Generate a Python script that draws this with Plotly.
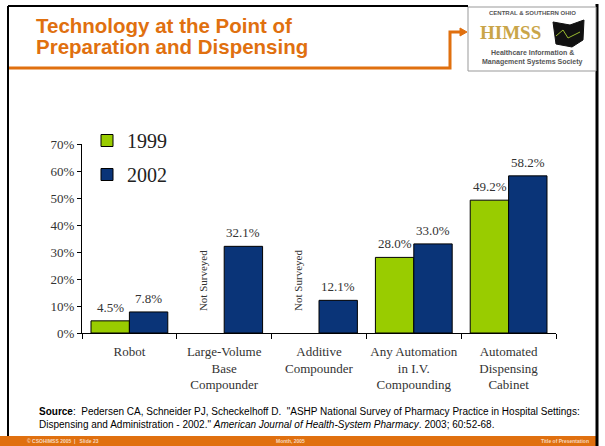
import plotly.graph_objects as go

# chart data
categories = ["Robot", "Large-Volume<br>Base<br>Compounder", "Additive<br>Compounder",
              "Any Automation<br>in I.V.<br>Compounding", "Automated<br>Dispensing<br>Cabinet"]
y1999 = [4.5, None, None, 28.0, 49.2]
y2002 = [7.8, 32.1, 12.1, 33.0, 58.2]
years = ["1999", "2002"]
yticks = [0, 10, 20, 30, 40, 50, 60, 70]

W, H = 605, 446
GREEN = "#99CC00"
NAVY = "#0A3478"
ORANGE = "#E0700F"
SERIF = "Liberation Serif, Times New Roman, serif"
SANS = "Liberation Sans, Arial, sans-serif"


def px(x):
    return x / W


def py(y):
    return 1 - y / H


fig = go.Figure()
fig.add_trace(go.Bar(x=categories, y=y1999, name=years[0], marker_color=GREEN, legendgroup="a",
                     marker_line=dict(color="black", width=1)))
fig.add_trace(go.Bar(x=categories, y=y2002, name=years[1], marker_color=NAVY, legendgroup="b",
                     marker_line=dict(color="black", width=1)))

# value labels above the bars, "Not Surveyed" where there is no 1999 value
for series, shift in [(y1999, -19), (y2002, 19)]:
    for cat, v in zip(categories, series):
        if v is None:
            fig.add_annotation(x=cat, y=19.3, text="Not Surveyed", textangle=-90, showarrow=False,
                               xshift=shift - 2, font=dict(family=SERIF, size=11, color="#333"))
        else:
            fig.add_annotation(x=cat, y=v, text="%.1f%%" % v, showarrow=False, yanchor="bottom",
                               xshift=shift, yshift=4, font=dict(family=SERIF, size=13, color="#333"))

fig.update_layout(
    width=W, height=H, margin=dict(l=0, r=0, t=0, b=0),
    paper_bgcolor="white", plot_bgcolor="white",
    barmode="group", bargap=0.19, bargroupgap=0,
    showlegend=True,
    legend=dict(x=px(87), y=py(121), xanchor="left", yanchor="top", bgcolor="rgba(0,0,0,0)",
                font=dict(family=SERIF, size=20, color="#222"), tracegroupgap=5, itemwidth=30,
                traceorder="grouped"),
    xaxis=dict(domain=[px(82), px(556)], showline=True, linecolor="black", linewidth=1,
               ticks="outside", tickson="boundaries", ticklen=5, tickcolor="black", tickangle=0,
               ticklabelstandoff=6, automargin=False,
               tickfont=dict(family=SERIF, size=13, color="#333"), showgrid=False),
    yaxis=dict(domain=[py(333), py(144)], range=[0, 70], tickvals=yticks,
               ticktext=["%d%%" % v for v in yticks], automargin=False,
               showline=True, linecolor="black", linewidth=1, ticks="outside", ticklen=4,
               tickcolor="black", tickfont=dict(family=SERIF, size=13, color="#333"),
               showgrid=False, zeroline=False),
)

# slide decoration: frame, orange rule with arrow, logo box, footer
shapes = [
    dict(type="line", x0=px(8), x1=px(468), y0=py(6), y1=py(6), line=dict(color="black", width=2)),
    dict(type="line", x0=px(8), x1=px(8), y0=py(6), y1=py(436), line=dict(color="black", width=2)),
    dict(type="rect", x0=px(0), x1=px(597), y0=py(436), y1=py(446), fillcolor=ORANGE, line_width=0),
    dict(type="line", x0=px(597), x1=px(597), y0=py(4), y1=py(446), line=dict(color="black", width=3)),
    dict(type="path", path="M %f %f L %f %f L %f %f L %f %f" % (px(9), py(68), px(450), py(68),
                                                            px(450), py(32), px(462), py(32)),
         line=dict(color=ORANGE, width=3)),
    dict(type="path", path="M %f %f L %f %f L %f %f Z" % (px(460), py(28), px(467), py(32), px(460), py(36)),
         fillcolor=ORANGE, line=dict(color=ORANGE, width=1)),
    dict(type="rect", x0=px(468), x1=px(596), y0=py(7), y1=py(71), line=dict(color="#999", width=1),
         fillcolor="white"),
    # rough Ohio silhouette
    dict(type="path", path="M %f %f L %f %f L %f %f L %f %f L %f %f L %f %f Z" % (
        px(553), py(22), px(570), py(25), px(584), py(20), px(583), py(40), px(572), py(47), px(556), py(44)),
         fillcolor="#111", line=dict(color="#111", width=1)),
    dict(type="path", path="M %f %f L %f %f L %f %f L %f %f" % (
        px(556), py(36), px(563), py(30), px(568), py(38), px(580), py(32)),
         line=dict(color="#9BBB2F", width=1)),
]
for s in shapes:
    s.update(xref="paper", yref="paper")
fig.update_layout(shapes=shapes)

texts = [
    dict(x=px(34), y=py(26), text="<b>Technology at the Point of</b>",
         font=dict(family=SANS, size=20.5, color=ORANGE), xanchor="left", yanchor="middle"),
    dict(x=px(34), y=py(47), text="<b>Preparation and Dispensing</b>",
         font=dict(family=SANS, size=20.5, color=ORANGE), xanchor="left", yanchor="middle"),
    dict(x=px(532), y=py(13), text="<b>CENTRAL & SOUTHERN OHIO</b>",
         font=dict(family=SANS, size=6, color="#555"), xanchor="center", yanchor="middle"),
    dict(x=px(510), y=py(33), text="<b>HIMSS</b>",
         font=dict(family=SERIF, size=19, color="#C9A548"), xanchor="center", yanchor="middle"),
    dict(x=px(532), y=py(52), text="<b>Healthcare Information &</b>",
         font=dict(family=SANS, size=7, color="#555"), xanchor="center", yanchor="middle"),
    dict(x=px(532), y=py(62), text="<b>Management Systems Society</b>",
         font=dict(family=SANS, size=7, color="#555"), xanchor="center", yanchor="middle"),
    dict(x=px(37), y=py(404), text="<b>Source</b>:  Pedersen CA, Schneider PJ, Scheckelhoff D.  \"ASHP National "
         "Survey of Pharmacy Practice in Hospital Settings:<br>Dispensing and Administration - 2002.\" "
         "<i>American Journal of Health-System Pharmacy</i>. 2003; 60:52-68.",
         font=dict(family=SANS, size=10, color="black"), xanchor="left", yanchor="top", align="left"),
    dict(x=px(25), y=py(441), text="<b>© CSOHIMSS 2005  |   Slide 23</b>",
         font=dict(family=SANS, size=5, color="#F6D9C0"), xanchor="left", yanchor="middle"),
    dict(x=px(290), y=py(441), text="<b>Month, 2005</b>",
         font=dict(family=SANS, size=5, color="#F6D9C0"), xanchor="center", yanchor="middle"),
    dict(x=px(591), y=py(441), text="<b>Title of Presentation</b>",
         font=dict(family=SANS, size=5, color="#F6D9C0"), xanchor="right", yanchor="middle"),
]
for t in texts:
    fig.add_annotation(xref="paper", yref="paper", showarrow=False, **t)

# the default page has an 8px body margin; drop it so the figure fills the window
fig.write_html("out.html", config={"displayModeBar": False},
               post_script="document.body.style.margin='0';")
